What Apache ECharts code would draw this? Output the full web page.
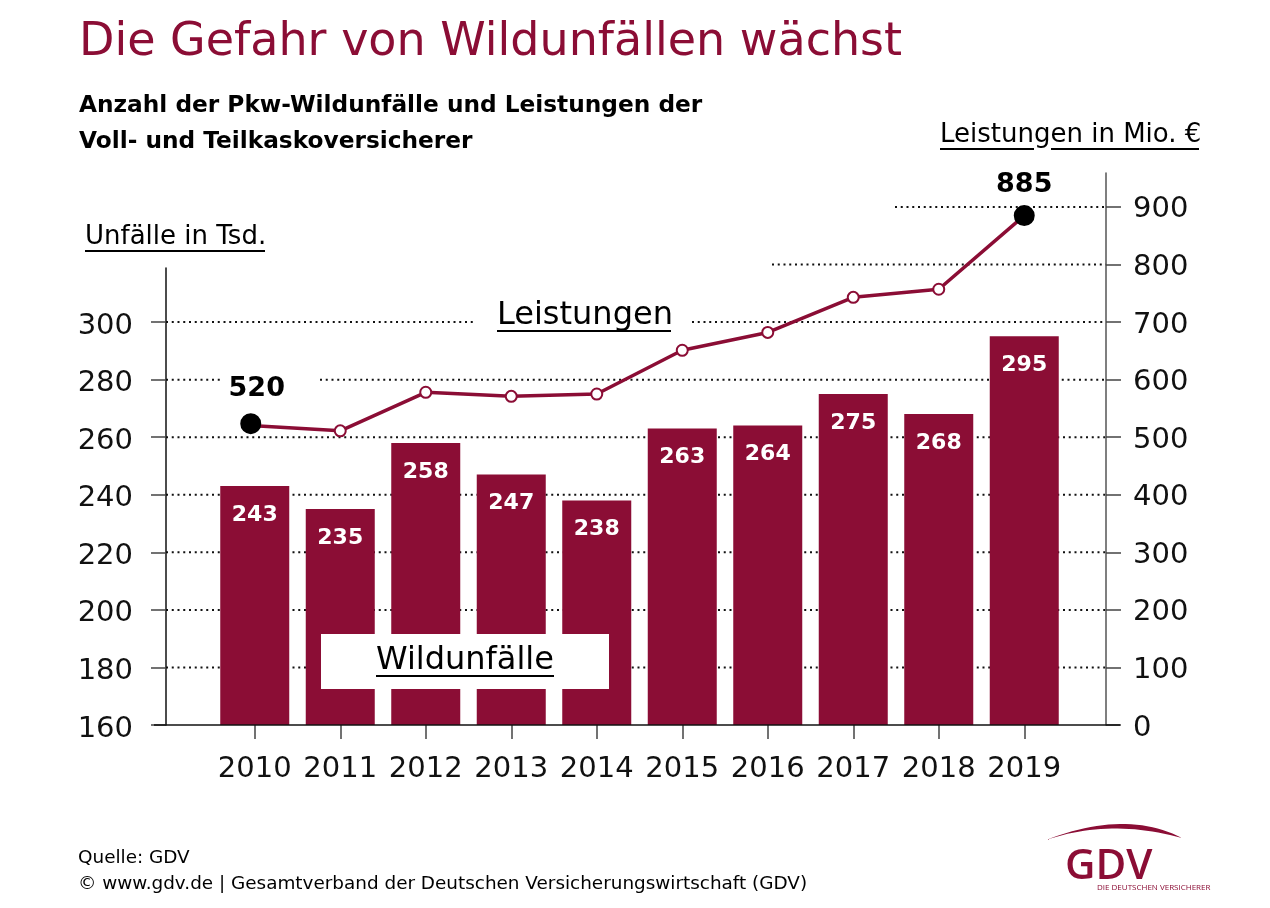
<!DOCTYPE html>
<html>
  <head>
    <meta charset="utf-8">
    <title>Die Gefahr von Wildunfällen wächst</title>
    <script src="https://cdn.jsdelivr.net/npm/echarts@6/dist/echarts.min.js"></script>
    <style>
      html, body { margin: 0; background: #fff; }
      #container { width: 1270px; height: 908px; }
    </style>
  </head>
  <body>
    <div id="container"></div>
    <script>
        const years = ['2010','2011','2012','2013','2014','2015','2016','2017','2018','2019'];
        const unfaelle = [243,235,258,247,238,263,264,275,268,295];
        const leistungen = [520,511,578,571,575,651,682,743,757,885];
        const unfaelleTicks = [160,180,200,220,240,260,280,300];
        const leistungenTicks = [0,100,200,300,400,500,600,700,800,900];

        const RED = '#8b0d35';
        const FONT = '"DejaVu Sans"';
        const chart = echarts.init(document.getElementById('container'), null, {renderer: 'canvas'});

        const axisTickStyle = {color: '#444', width: 1.5};

        // two grids: bars use the shorter left axis, the line the taller right one
        chart.setOption({
            backgroundColor: '#fff',
            animation: false,
            grid: [
                {left: 212, right: 203, top: 268, bottom: 183},
                {left: 212, right: 203, top: 173, bottom: 183}
            ],
            xAxis: [
                {
                    type: 'category', gridIndex: 0, data: years,
                    axisLine: {show: false},
                    axisTick: {show: true, alignWithLabel: true, length: 14, lineStyle: axisTickStyle},
                    axisLabel: {color: '#111', fontFamily: FONT, fontSize: 29, margin: 30, interval: 0}
                },
                {type: 'category', gridIndex: 1, data: years, show: false}
            ],
            yAxis: [
                {
                    type: 'value', gridIndex: 0, position: 'left', offset: 46, min: 160, max: 318.75,
                    axisLine: {show: true, onZero: false, lineStyle: {color: '#111', width: 1.5}},
                    axisTick: {show: true, length: 15, lineStyle: axisTickStyle, customValues: unfaelleTicks},
                    axisLabel: {color: '#111', fontFamily: FONT, fontSize: 29, margin: 33, verticalAlign: 'top', lineHeight: 8, customValues: unfaelleTicks},
                    splitLine: {show: false}
                },
                {
                    type: 'value', gridIndex: 1, position: 'right', offset: 39, min: 0, max: 959,
                    axisLine: {show: true, onZero: false, lineStyle: {color: '#555', width: 1.5}},
                    axisTick: {show: true, length: 15, lineStyle: axisTickStyle, customValues: leistungenTicks},
                    axisLabel: {color: '#111', fontFamily: FONT, fontSize: 29, margin: 27, verticalAlign: 'top', lineHeight: 6, customValues: leistungenTicks},
                    splitLine: {show: false}
                }
            ],
            series: [
                {
                    name: 'Wildunfälle', type: 'bar', xAxisIndex: 0, yAxisIndex: 0,
                    data: unfaelle, barWidth: 69, z: 2,
                    itemStyle: {color: RED},
                    label: {
                        show: true, position: 'insideTop', distance: 18,
                        color: '#fff', fontFamily: FONT, fontWeight: 'bold', fontSize: 22
                    }
                },
                {
                    name: 'Leistungen', type: 'line', xAxisIndex: 1, yAxisIndex: 1, z: 4,
                    data: leistungen.map(function (v, i) {
                        if (i === 0 || i === leistungen.length - 1) {
                            return {
                                value: v, symbolSize: 19,
                                symbolOffset: i === 0 ? [-4, -2] : [0, 0],
                                itemStyle: {color: '#000', borderColor: '#000'},
                                label: {
                                    show: true, position: 'top', distance: i === 0 ? 11 : 7,
                                    offset: i === 0 ? [6, 0] : [0, 0],
                                    color: '#000', fontFamily: FONT, fontWeight: 'bold', fontSize: 27
                                }
                            };
                        }
                        return v;
                    }),
                    symbol: 'circle', symbolSize: 11,
                    lineStyle: {color: RED, width: 3.5},
                    itemStyle: {color: '#fff', borderColor: RED, borderWidth: 2}
                }
            ]
        });

        // dotted rules stop where they would run into a text, so they are not splitLines
        const ruleSpans = {
            100: [[166, 1106]], 200: [[166, 1106]], 300: [[166, 1106]], 400: [[166, 1106]], 500: [[166, 1106]],
            600: [[166, 222], [320, 1106]],
            700: [[166, 475], [692, 1106]],
            800: [[772, 1106]],
            900: [[895, 1106]]
        };
        const graphics = [];
        Object.keys(ruleSpans).forEach(function (v) {
            const y = chart.convertToPixel({yAxisIndex: 1}, Number(v));
            ruleSpans[v].forEach(function (s) {
                graphics.push({
                    type: 'line', z: 0, silent: true,
                    shape: {x1: s[0], y1: y, x2: s[1], y2: y},
                    style: {stroke: '#111', lineWidth: 2, lineDash: [2, 3.75]}
                });
            });
        });

        const baseY = chart.convertToPixel({yAxisIndex: 0}, 160);
        graphics.push({
            type: 'line', z: 3, silent: true,
            shape: {x1: 154, y1: baseY, x2: 1120, y2: baseY},
            style: {stroke: '#111', lineWidth: 1.5}
        });

        function text(str, x, y, font, fill, align) {
            graphics.push({
                type: 'text', z: 6, silent: true,
                style: {text: str, x: x, y: y, font: font, fill: fill || '#000', textAlign: align || 'left', textVerticalAlign: 'middle'}
            });
        }
        function underline(x1, x2, y) {
            graphics.push({
                type: 'line', z: 6, silent: true,
                shape: {x1: x1, y1: y, x2: x2, y2: y},
                style: {stroke: '#000', lineWidth: 2.2}
            });
        }

        text('Die Gefahr von Wildunfällen wächst', 79, 43, '46px ' + FONT, RED);
        text('Anzahl der Pkw-Wildunfälle und Leistungen der', 79, 106, 'bold 23.25px ' + FONT);
        text('Voll- und Teilkaskoversicherer', 79, 142, 'bold 23.25px ' + FONT);

        text('Unfälle in Tsd.', 85, 237, '26px ' + FONT);
        underline(85, 265, 251);
        text('Leistungen in Mio. €', 940, 135, '26px ' + FONT);
        underline(940, 1034, 149);
        underline(1051, 1199, 149);

        text('Leistungen', 497, 316, '32px ' + FONT);
        underline(497, 671, 331);

        graphics.push({
            type: 'rect', z: 5, silent: true,
            shape: {x: 321, y: 634, width: 288, height: 55},
            style: {fill: '#fff'}
        });
        text('Wildunfälle', 376, 661, '32px ' + FONT);
        underline(376, 554, 676);

        text('Quelle: GDV', 78, 858, '18.4px ' + FONT);
        text('© www.gdv.de | Gesamtverband der Deutschen Versicherungswirtschaft (GDV)', 78, 884, '18.4px ' + FONT);

        // GDV logo: swoosh between two quadratic curves
        function quad(p0, c, p1, steps) {
            const pts = [];
            for (let i = 0; i <= steps; i++) {
                const t = i / steps, u = 1 - t;
                pts.push([u * u * p0[0] + 2 * u * t * c[0] + t * t * p1[0], u * u * p0[1] + 2 * u * t * c[1] + t * t * p1[1]]);
            }
            return pts;
        }
        graphics.push({
            type: 'polygon', z: 6, silent: true,
            shape: {points: quad([1046, 840], [1126, 809], [1182, 838], 24).concat(quad([1182, 838], [1110, 818], [1046, 840], 24))},
            style: {fill: RED}
        });
        text('GDV', 1065, 867, '600 42px "Open Sans"', RED);
        text('DIE DEUTSCHEN VERSICHERER', 1097, 888, '8px "Open Sans"', RED);

        chart.setOption({graphic: graphics});
    </script>
  </body>
</html>
